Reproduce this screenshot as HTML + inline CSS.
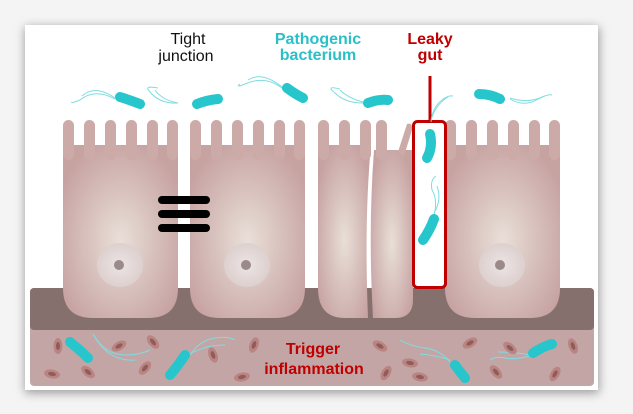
<!DOCTYPE html>
<html><head><meta charset="utf-8"><style>
html,body{margin:0;padding:0;background:#fff;}
svg{display:block}
text{font-family:"Liberation Sans",Arial,sans-serif;}
</style></head><body>
<svg width="633" height="414" viewBox="0 0 633 414" xmlns="http://www.w3.org/2000/svg">
<defs>
<radialGradient id="cg" cx="0.5" cy="0.55" r="0.6">
<stop offset="0" stop-color="#e9dfd8"/><stop offset="1" stop-color="#c6a2a1"/>
</radialGradient>
<radialGradient id="ng" cx="0.5" cy="0.5" r="0.5">
<stop offset="0" stop-color="#ece4e4"/><stop offset="1" stop-color="#ddd0cf"/>
</radialGradient>
<filter id="sh" x="-10%" y="-10%" width="120%" height="120%"><feGaussianBlur stdDeviation="5"/></filter>
<g id="rbc"><ellipse rx="8" ry="4.5" fill="#b98481"/><ellipse rx="4" ry="2" fill="#8f5c5a"/></g>
<g id="fing">
<rect x="0" y="0" width="11" height="40" rx="5.5" fill="#cbaaa8"/>
</g>
</defs>
<rect x="0" y="0" width="633" height="414" fill="#f4f4f4"/>
<rect x="25" y="27" width="574" height="366" fill="#999" filter="url(#sh)"/>
<rect x="25" y="25" width="573" height="365" fill="#fff"/>

<rect x="30" y="288" width="564" height="98" rx="4" fill="#c4a5a5"/>
<rect x="30" y="288" width="564" height="42" rx="4" fill="#86706e"/>

<g>
<path d="M63 145 H178 V288 Q178 318 148 318 H93 Q63 318 63 288 Z" fill="url(#cg)"/>
<use href="#fing" x="63" y="120"/><use href="#fing" x="84" y="120"/><use href="#fing" x="105" y="120"/><use href="#fing" x="126" y="120"/><use href="#fing" x="147" y="120"/><use href="#fing" x="167" y="120"/>
<path d="M190 145 H305 V288 Q305 318 275 318 H220 Q190 318 190 288 Z" fill="url(#cg)"/>
<use href="#fing" x="190" y="120"/><use href="#fing" x="211" y="120"/><use href="#fing" x="232" y="120"/><use href="#fing" x="253" y="120"/><use href="#fing" x="274" y="120"/><use href="#fing" x="294" y="120"/>
<path d="M318 145 H371 Q364 220 368 318 H345 Q318 318 318 288 Z" fill="url(#cg)"/>
<use href="#fing" x="318" y="120"/><use href="#fing" x="339" y="120"/><use href="#fing" x="360" y="120"/>
<path d="M374 150 H413 V300 Q413 318 395 318 H373 Q368 230 374 150 Z" fill="url(#cg)"/>
<use href="#fing" x="376" y="120"/><path d="M398 152 L407 124 Q413 122 412 130 L404 156 Z" fill="#cbaaa8"/>
<path d="M445 145 H560 V288 Q560 318 530 318 H475 Q445 318 445 288 Z" fill="url(#cg)"/>
<use href="#fing" x="445" y="120"/><use href="#fing" x="466" y="120"/><use href="#fing" x="487" y="120"/><use href="#fing" x="508" y="120"/><use href="#fing" x="529" y="120"/><use href="#fing" x="549" y="120"/>
</g>
<ellipse cx="120" cy="265" rx="23" ry="22" fill="url(#ng)"/><circle cx="119" cy="265" r="5" fill="#9a8a88"/>
<ellipse cx="247" cy="265" rx="23" ry="22" fill="url(#ng)"/><circle cx="246" cy="265" r="5" fill="#9a8a88"/>
<ellipse cx="502" cy="265" rx="23" ry="22" fill="url(#ng)"/><circle cx="500" cy="265" r="5" fill="#9a8a88"/>

<g stroke="#000" stroke-width="8" stroke-linecap="round">
<line x1="162" y1="200" x2="206" y2="200"/><line x1="162" y1="214" x2="206" y2="214"/><line x1="162" y1="228" x2="206" y2="228"/>
</g>

<line x1="430" y1="76" x2="430" y2="121" stroke="#c00000" stroke-width="3"/>
<rect x="413.5" y="121.5" width="32" height="166" rx="4" fill="#fff" stroke="#c00000" stroke-width="3"/>

<g fill="none" stroke="#7fdde0" stroke-width="1">
<path d="M115 99 Q95 88 80 100 Q70 104 72 102"/><path d="M115 98 Q95 84 82 96"/>
<path d="M178 103 Q160 104 150 92 Q143 85 158 88"/><path d="M178 103 Q162 100 155 90"/>
<path d="M282 88 Q265 75 245 84 Q235 88 240 84"/><path d="M282 87 Q262 71 248 80"/>
<path d="M363 103 Q345 103 335 93 Q325 85 340 89"/><path d="M363 102 Q348 98 340 90"/>
<path d="M510 99 Q525 108 540 98 Q548 94 552 95"/><path d="M510 98 Q528 104 545 96"/>
<path d="M431 122 Q432 108 442 100 Q448 95 453 96"/><path d="M431 120 Q436 104 448 97"/>
<path d="M434 215 Q438 200 432 190 Q430 180 436 176"/><path d="M434 213 Q442 200 437 186"/>
<path d="M93 334 Q105 355 125 355 Q140 355 150 350"/><path d="M93 334 Q108 362 135 360"/>
<path d="M190 355 Q200 340 215 338 Q228 336 235 340"/><path d="M190 354 Q205 345 225 345"/>
<path d="M450 362 Q440 350 425 348 Q410 346 400 340"/><path d="M450 360 Q435 355 420 354"/>
<path d="M530 356 Q515 360 505 358 Q495 356 490 360"/><path d="M530 355 Q515 352 498 352"/>
</g>
<g stroke="#27c6cc" stroke-width="10" stroke-linecap="round" fill="none">
<path d="M120 97 Q130 100 140 104"/>
<path d="M197 104 Q207 100 218 99"/>
<path d="M287 88 Q295 94 303 98"/>
<path d="M368 103 Q378 99 388 100"/>
<path d="M479 94 Q490 94 500 99"/>
<path d="M430 134 Q433 147 427 158"/>
<path d="M434 219 Q430 230 423 240"/>
<path d="M70 342 Q80 350 88 358"/>
<path d="M185 355 Q177 367 170 375"/>
<path d="M455 365 Q460 372 465 378"/>
<path d="M533 353 Q544 346 552 344"/>
</g>

<use href="#rbc" transform="translate(58,346) rotate(90)"/>
<use href="#rbc" transform="translate(52,374) rotate(10)"/>
<use href="#rbc" transform="translate(88,372) rotate(40)"/>
<use href="#rbc" transform="translate(119,346) rotate(-30)"/>
<use href="#rbc" transform="translate(153,342) rotate(50)"/>
<use href="#rbc" transform="translate(145,368) rotate(-50)"/>
<use href="#rbc" transform="translate(213,355) rotate(70)"/>
<use href="#rbc" transform="translate(242,377) rotate(-10)"/>
<use href="#rbc" transform="translate(254,345) rotate(-70)"/>
<use href="#rbc" transform="translate(380,346) rotate(30)"/>
<use href="#rbc" transform="translate(386,373) rotate(-60)"/>
<use href="#rbc" transform="translate(410,363) rotate(10)"/>
<use href="#rbc" transform="translate(420,377) rotate(10)"/>
<use href="#rbc" transform="translate(470,343) rotate(-30)"/>
<use href="#rbc" transform="translate(510,348) rotate(40)"/>
<use href="#rbc" transform="translate(496,372) rotate(50)"/>
<use href="#rbc" transform="translate(573,346) rotate(70)"/>
<use href="#rbc" transform="translate(555,374) rotate(-60)"/>

<g font-size="16" text-anchor="middle">
<text x="188" y="44" fill="#111">Tight</text>
<text x="186" y="61" fill="#111">junction</text>
<text x="318" y="44" fill="#2bbfc8" font-weight="bold">Pathogenic</text>
<text x="318" y="60" fill="#2bbfc8" font-weight="bold">bacterium</text>
<text x="430" y="44" fill="#c00000" font-weight="bold">Leaky</text>
<text x="430" y="60" fill="#c00000" font-weight="bold">gut</text>
<text x="313" y="354" fill="#c00000" font-weight="bold">Trigger</text>
<text x="314" y="374" fill="#c00000" font-weight="bold">inflammation</text>
</g>
</svg>
</body></html>
